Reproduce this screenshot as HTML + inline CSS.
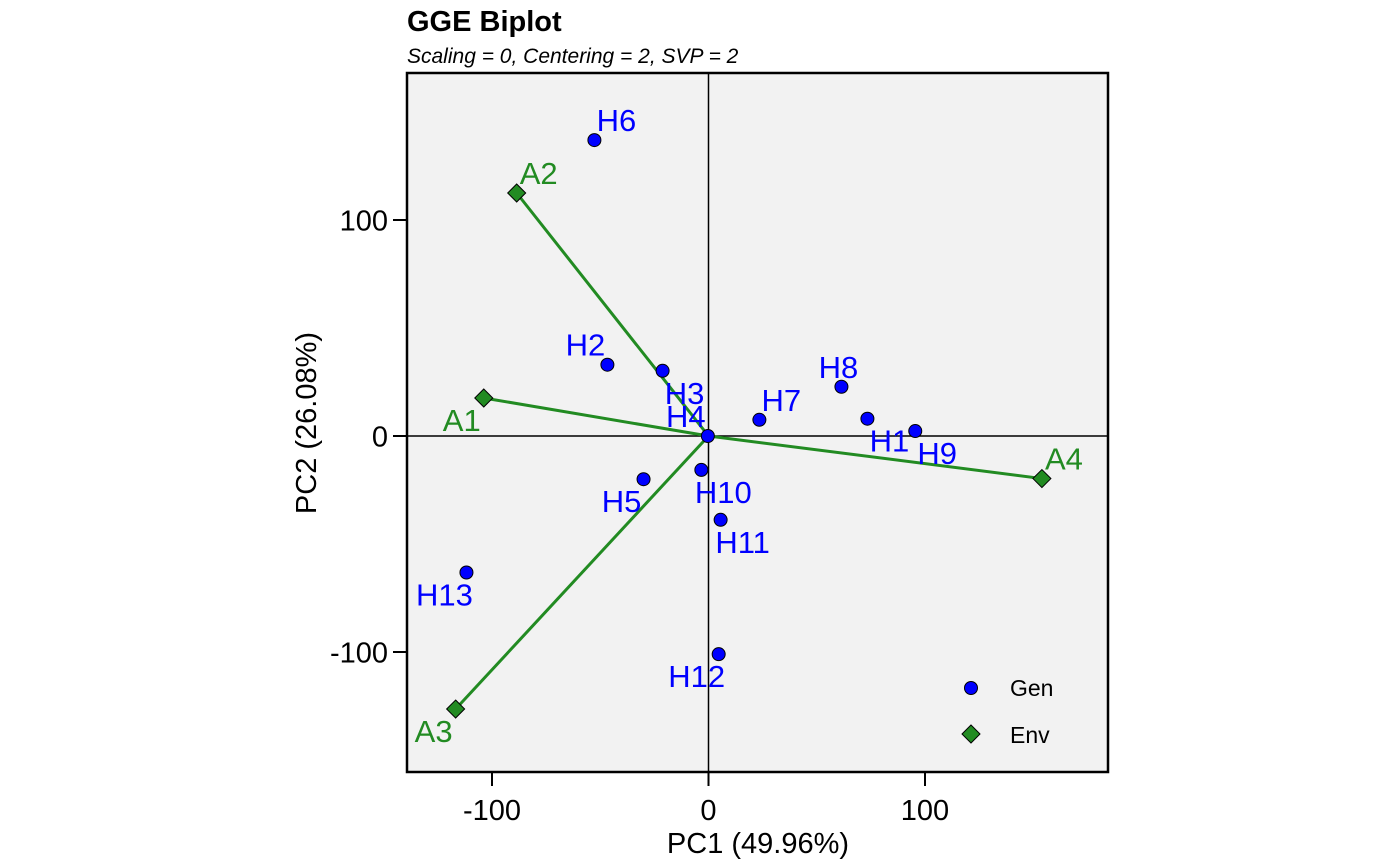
<!DOCTYPE html>
<html><head><meta charset="utf-8"><style>
body{margin:0;background:#fff;}
svg{display:block;font-family:"Liberation Sans",Arial,sans-serif;}
</style></head><body>
<svg id="chart" width="1400" height="866">
<text x="407" y="31" font-size="29" font-weight="bold">GGE Biplot</text>
<text x="407" y="63" font-size="21" font-style="italic">Scaling = 0, Centering = 2, SVP = 2</text>
<rect x="407" y="73" width="701" height="699" fill="#f2f2f2"/>
<g id="axes"></g>
<g id="marks"></g>
<rect x="407" y="73" width="701" height="699" fill="none" stroke="#000" stroke-width="2.5"/>
<text x="758" y="853" font-size="29" text-anchor="middle">PC1 (49.96%)</text>
<text transform="translate(316,423) rotate(-90)" font-size="29" text-anchor="middle">PC2 (26.08%)</text>
<g>
<circle cx="971" cy="688" r="6.5" fill="#0000ff" stroke="#000" stroke-width="1"/>
<text x="1010" y="696" font-size="23">Gen</text>
<polygon points="971,725 980,734 971,743 962,734" fill="#228b22" stroke="#000" stroke-width="1"/>
<text x="1010" y="743" font-size="23">Env</text>
</g>
</svg>
<script>
const genNames=["H1","H2","H3","H4","H5","H6","H7","H8","H9","H10","H11","H12","H13"];
const genPC1=[73.4,-46.7,-21.2,-0.3,-30,-52.7,23.5,61.4,95.5,-3.3,5.6,4.7,-111.8];
const genPC2=[8.0,33.0,30.2,0,-20.0,137,7.5,22.8,2.3,-15.7,-38.8,-101,-63.2];
const genLabelPos=["br","tl","br","tl","bl","tr","tr","t","br","br","br","bl","bl"];
const envNames=["A1","A2","A3","A4"];
const envPC1=[-103.8,-88.6,-116.8,154];
const envPC2=[17.6,112.5,-126.4,-19.7];
const envLabelPos=["bl","tr","bl","tr"];
const xTicks=[-100,0,100];
const yTicks=[-100,0,100];

const X0=708.5,Y0=436,SX=2.165,SY=2.16;
const xs=v=>X0+v*SX, ys=v=>Y0-v*SY;
const NS="http://www.w3.org/2000/svg";
function mk(tag,attrs,parent){const e=document.createElementNS(NS,tag);for(const k in attrs)e.setAttribute(k,attrs[k]);parent.appendChild(e);return e;}
const axes=document.getElementById('axes'),marks=document.getElementById('marks');
let l=mk('line',{x1:xs(0),x2:xs(0),y1:73,y2:772,stroke:'#000','stroke-width':1.5},axes);


l=mk('line',{x1:407,x2:1108,y1:ys(0),y2:ys(0),stroke:'#000','stroke-width':1.5},axes);


xTicks.forEach(t=>{
 let k=mk('line',{x1:xs(t),x2:xs(t),y1:772,y2:786,stroke:'#000','stroke-width':2},axes);
 
 
 let tx=mk('text',{x:xs(t),y:820,'font-size':29,'text-anchor':'middle'},axes);
 tx.textContent=t;
 
 
});
yTicks.forEach(t=>{
 let k=mk('line',{x1:393,x2:407,y1:ys(t),y2:ys(t),stroke:'#000','stroke-width':2},axes);
 
 
 let tx=mk('text',{x:388,y:ys(t)+10.5,'font-size':29,'text-anchor':'end'},axes);
 tx.textContent=t;
 
 
});
const off={tr:[22,-9],tl:[-22,-9],br:[22,33],bl:[-22,33],t:[-3,-9]};
function label(x,y,pos,txt,col,name){
 const o=off[pos];
 const t=mk('text',{x:x+o[0],y:y+o[1],'font-size':31,'text-anchor':'middle',fill:col},marks);
 t.textContent=txt;
 
 
}
envNames.forEach((n,i)=>{
 const ln=mk('line',{x1:xs(0),y1:ys(0),x2:xs(envPC1[i]),y2:ys(envPC2[i]),stroke:'#228b22','stroke-width':3},marks);
 
 
});
genNames.forEach((n,i)=>{
 const x=xs(genPC1[i]),y=ys(genPC2[i]);
 const c=mk('circle',{cx:x,cy:y,r:6.5,fill:'#0000ff',stroke:'#000','stroke-width':1},marks);
 
 
 label(x,y,genLabelPos[i],n,'#0000ff','gen-label-'+n.toLowerCase());
});
envNames.forEach((n,i)=>{
 const x=xs(envPC1[i]),y=ys(envPC2[i]);
 const p=mk('polygon',{points:`${x},${y-9} ${x+9},${y} ${x},${y+9} ${x-9},${y}`,fill:'#228b22',stroke:'#000','stroke-width':1},marks);
 
 
 label(x,y,envLabelPos[i],n,'#228b22','env-label-'+n.toLowerCase());
});
</script>
</body></html>
